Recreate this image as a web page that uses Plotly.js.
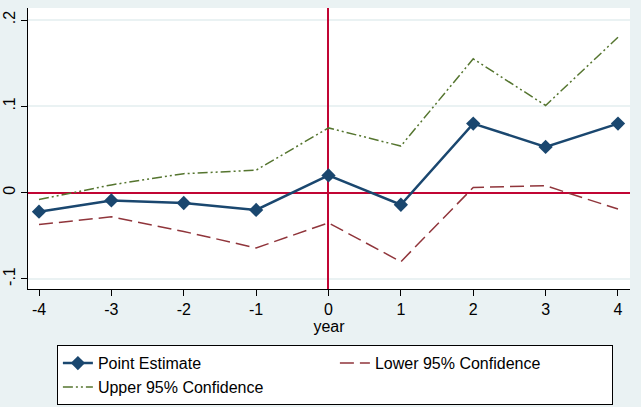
<!DOCTYPE html>
<html>
<head>
<meta charset="utf-8">
<script src="https://cdn.plot.ly/plotly-3.0.1.min.js"></script>
<style>html,body{margin:0;padding:0;background:#eaf2f3;}#chart{width:641px;height:407px;}</style>
</head>
<body>
<div id="chart"></div>
<script>
const years = [-4, -3, -2, -1, 0, 1, 2, 3, 4];
const pointEstimate = [-0.022, -0.009, -0.012, -0.020, 0.020, -0.014, 0.080, 0.053, 0.080];
const lower95 = [-0.037, -0.028, -0.045, -0.064, -0.035, -0.080, 0.006, 0.008, -0.019];
const upper95 = [-0.008, 0.009, 0.022, 0.026, 0.075, 0.054, 0.155, 0.101, 0.180];
const yTickVals = [-0.1, 0, 0.1, 0.2];
const yTickText = ['-.1', '0', '.1', '.2'];
const xTickVals = [-4, -3, -2, -1, 0, 1, 2, 3, 4];
const xTickText = ['-4', '-3', '-2', '-1', '0', '1', '2', '3', '4'];

const traces = [
  {x: years, y: pointEstimate, name: 'Point Estimate', mode: 'lines+markers', type: 'scatter',
   line: {color: '#1a476f', width: 2.5}, marker: {symbol: 'diamond', size: 11, color: '#1a476f'}},
  {x: years, y: lower95, name: 'Lower 95% Confidence', mode: 'lines', type: 'scatter',
   line: {color: '#90353b', width: 1.5, dash: '14px,6px'}},
  {x: years, y: upper95, name: 'Upper 95% Confidence', mode: 'lines', type: 'scatter',
   line: {color: '#55752f', width: 1.5, dash: '10px,3px,2px,3px,2px,3px'}}
];

const layout = {
  width: 641, height: 407,
  margin: {l: 28, r: 11, t: 8, b: 118, autoexpand: false},
  paper_bgcolor: '#eaf2f3', plot_bgcolor: '#ffffff',
  font: {family: 'Liberation Sans, Arial, sans-serif', size: 16, color: '#000'},
  showlegend: true,
  xaxis: {range: [-4.152, 4.166], tickvals: xTickVals, ticktext: xTickText, ticks: 'outside', ticklen: 6, tickcolor: '#000',
          showgrid: false, zeroline: true, zerolinecolor: '#c10534', zerolinewidth: 2,
          showline: true, linecolor: '#000', linewidth: 1,
          title: {text: 'year', standoff: 0, font: {size: 16}}, tickfont: {size: 16}},
  yaxis: {range: [-0.1116, 0.2139], tickvals: yTickVals, ticktext: yTickText, tickangle: -90,
          ticks: 'outside', ticklen: 6, tickcolor: '#000', showgrid: true, gridcolor: '#eaf2f3', gridwidth: 2,
          zeroline: true, zerolinecolor: '#c10534', zerolinewidth: 2,
          showline: true, linecolor: '#000', linewidth: 1, tickfont: {size: 16}},
  legend: {orientation: 'h', x: 0.048, xanchor: 'left', y: -0.2, yanchor: 'top',
           bgcolor: '#ffffff', bordercolor: '#000', borderwidth: 1,
           entrywidth: 232, entrywidthmode: 'pixels', font: {size: 16}, traceorder: 'normal'}
};

Plotly.newPlot('chart', traces, layout, {displayModeBar: false, staticPlot: true});
</script>
</body>
</html>
